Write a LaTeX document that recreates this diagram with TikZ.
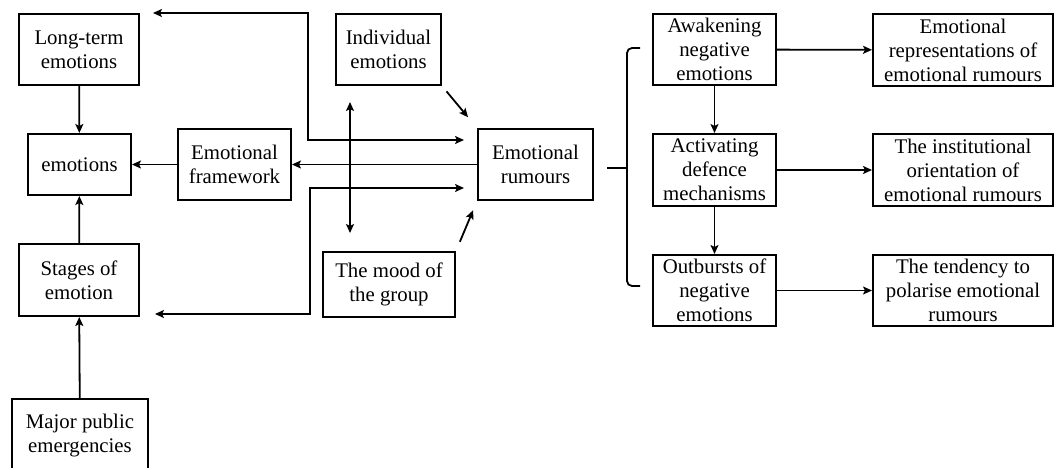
\documentclass[tikz,border=0pt]{standalone}
\usepackage{fontspec}
\setmainfont{LiberationSerif}[Extension=.ttf, UprightFont=*-Regular, BoldFont=*-Bold]
\usetikzlibrary{arrows.meta}

\begin{document}
\begin{tikzpicture}[
  x=1pt, y=-1pt,
  >={Stealth[length=9pt, width=8pt, inset=2pt]},
  font=\rmfamily\fontsize{20.8}{24}\selectfont,
  box/.style={draw, line width=2pt, align=center, inner sep=1pt},
  link/.style={->, line width=1.8pt},
  both/.style={<->, line width=1.8pt},
]
  \useasboundingbox (0,0) rectangle (1054,468);
  \clip (0,0) rectangle (1054,468);

  \foreach \name/\x/\y/\w/\h/\txt in {%
      lt/79/49.5/120/71/{Long-term\\emotions},
      emo/79.5/164.5/103/61/{emotions},
      fw/234.5/164.5/113/71/{Emotional\\framework},
      ind/388.5/49.5/105/71/{Individual\\emotions},
      rum/535.5/164.5/115/71/{Emotional\\rumours},
      st/79/280/120/72/{Stages of\\emotion},
      mood/389/284.5/132/65/{The mood of\\the group},
      mpe/80/436/136/74/{Major public\\emergencies},
      aw/714.5/49.5/123/71/{Awakening\\negative\\emotions},
      act/714.5/170/123/72/{Activating\\defence\\mechanisms},
      out/714.5/290.5/123/71/{Outbursts of\\negative\\emotions},
      er/963/50/180/72/{Emotional\\representations of\\emotional rumours},
      io/963/170/180/72/{The institutional\\orientation of\\emotional rumours},
      td/963/290.5/180/71/{The tendency to\\polarise emotional\\rumours}}
    \node[box, minimum width=\w pt, minimum height=\h pt] (\name) at (\x,\y) {\txt};

  \foreach \from/\to in {lt/emo, st/emo, mpe/st, fw/emo, rum/fw,
      aw/act, act/out, aw/er, act/io, out/td}
    \draw[link] (\from) -- (\to);

  % free ends of the long feedback lines
  \coordinate (top) at (153,13);
  \coordinate (low) at (155,314);
  \coordinate (vup) at (350,102);
  \coordinate (vdn) at (350,233);

  \draw[both, shorten >=13pt] (top) -| (308,140) -- (rum.west |- 0,140);
  \draw[both, shorten >=13pt] (low) -| (310,188) -- (rum.west |- 0,188);
  \draw[both] (vup) -- (vdn);

  \draw[link, shorten <=7pt, shorten >=14pt] (ind.south east) -- (rum.north west);
  \draw[link, shorten <=10pt, shorten >=10pt] (mood.north east) -- (rum.south west);

  % brace towards the three stages
  \draw[line width=1.8pt, rounded corners=5pt] (640,48) -- (627,48) -- (627,286) -- (640,286);
  \draw[line width=1.8pt] (607,168) -- (627,168);
\end{tikzpicture}
\end{document}
